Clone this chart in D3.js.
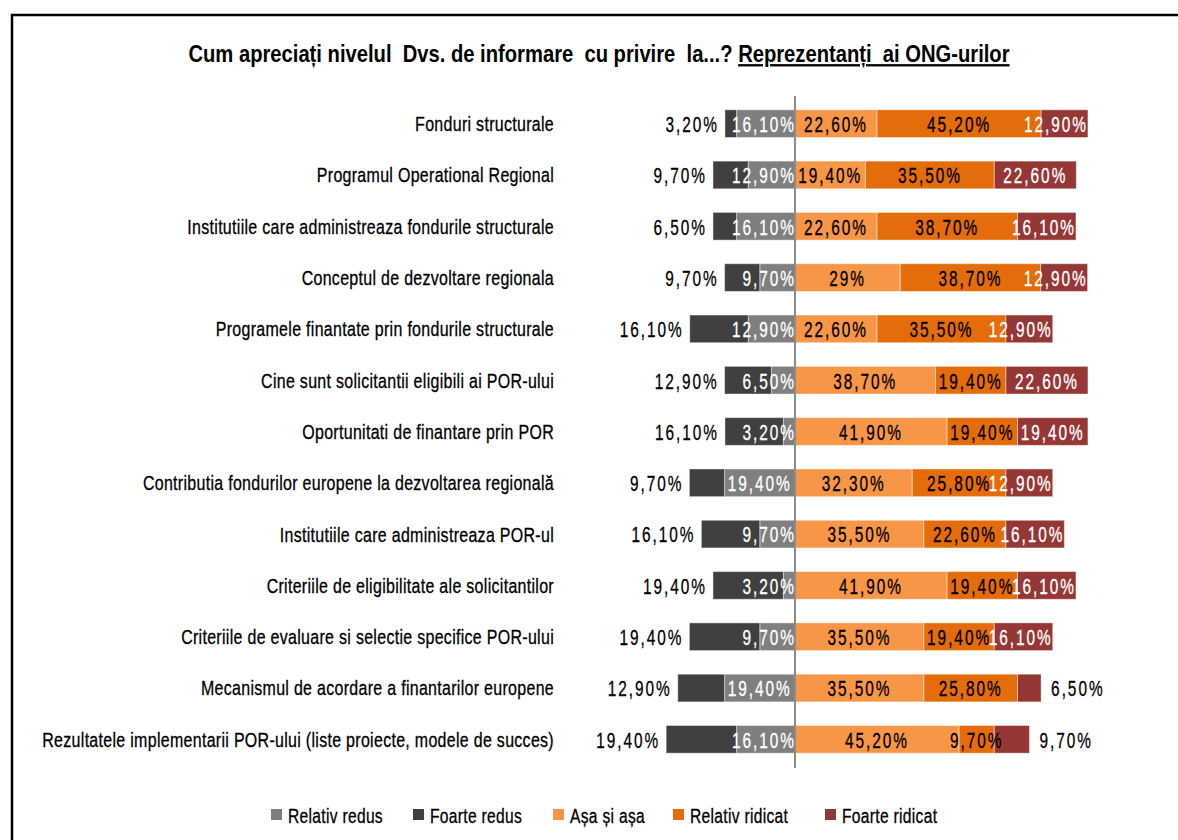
<!DOCTYPE html>
<html>
<head>
<meta charset="utf-8">
<script src="https://cdn.jsdelivr.net/npm/d3@7"></script>
<style>
  body { margin: 0; background: #fff; }
  text { font-family: "Liberation Sans", Arial, sans-serif; }
</style>
</head>
<body>
<div id="chart"></div>
<script>
// Data (percentages)
const categories = [
    "Fonduri structurale",
    "Programul Operational Regional",
    "Institutiile care administreaza fondurile structurale",
    "Conceptul de dezvoltare regionala",
    "Programele finantate prin fondurile structurale",
    "Cine sunt solicitantii eligibili ai POR-ului",
    "Oportunitati de finantare prin POR",
    "Contributia fondurilor europene la dezvoltarea regională",
    "Institutiile care administreaza POR-ul",
    "Criteriile de eligibilitate ale solicitantilor",
    "Criteriile de evaluare si selectie specifice POR-ului",
    "Mecanismul de acordare a finantarilor europene",
    "Rezultatele implementarii POR-ului (liste proiecte, modele de succes)"
];
const foarteRedus    = [3.2, 9.7, 6.5, 9.7, 16.1, 12.9, 16.1, 9.7, 16.1, 19.4, 19.4, 12.9, 19.4];
const relativRedus   = [16.1, 12.9, 16.1, 9.7, 12.9, 6.5, 3.2, 19.4, 9.7, 3.2, 9.7, 19.4, 16.1];
const asaSiAsa       = [22.6, 19.4, 22.6, 29, 22.6, 38.7, 41.9, 32.3, 35.5, 41.9, 35.5, 35.5, 45.2];
const relativRidicat = [45.2, 35.5, 38.7, 38.7, 35.5, 19.4, 19.4, 25.8, 22.6, 19.4, 19.4, 25.8, 9.7];
const foarteRidicat  = [12.9, 22.6, 16.1, 12.9, 12.9, 22.6, 19.4, 12.9, 16.1, 16.1, 16.1, 6.5, 9.7];

const legendNames = ["Relativ redus", "Foarte redus", "Așa și așa", "Relativ ridicat", "Foarte ridicat"];
const colors = {
    "Relativ redus": "#7f7f7f",
    "Foarte redus": "#404040",
    "Așa și așa": "#f79646",
    "Relativ ridicat": "#e46c0a",
    "Foarte ridicat": "#953735"
};

const fmt = v => (v % 1 === 0 ? v + "" : v.toFixed(2).replace(".", ",")) + "%";

const W = 1178, H = 840;
const svg = d3.select("#chart").append("svg")
    .attr("width", W).attr("height", H);

// the original uses a very narrow font, so text is squeezed horizontally
function squeezed(parent, px, py, str, anchor, sx) {
    const g = parent.append("g").attr("transform", `translate(${px},${py}) scale(${sx},1)`);
    return g.append("text").attr("text-anchor", anchor).text(str);
}

// outer frame (runs off the right/bottom edges)
svg.append("rect")
    .attr("x", 12).attr("y", 15)
    .attr("width", 1200).attr("height", 900)
    .attr("fill", "none").attr("stroke", "#000").attr("stroke-width", 2.5);

// Title
const titleG = svg.append("g");
const title = titleG.append("text")
    .attr("text-anchor", "middle")
    .style("font-size", "23px").style("font-weight", "bold")
    .style("white-space", "pre");
title.append("tspan").text("Cum apreciați nivelul  Dvs. de informare  cu privire  la...? ");
title.append("tspan").attr("text-decoration", "underline").text("Reprezentanți  ai ONG-urilor");
const titleSx = 822 / title.node().getComputedTextLength();
titleG.attr("transform", `translate(599,62) scale(${titleSx},1)`);

// Scales
const x = d3.scaleLinear().domain([-50, 90]).range([613.5, 1121.7]);
const y = d3.scaleBand().domain(categories).range([98, 765])
    .paddingInner(0.46).paddingOuter(0.23);

// Build segments for each row
const rows = categories.map((c, i) => {
    const segs = [];
    // left side: Relativ redus next to the centre, then Foarte redus
    segs.push({ cat: c, key: "Relativ redus", v: relativRedus[i], x0: -relativRedus[i], x1: 0 });
    segs.push({ cat: c, key: "Foarte redus", v: foarteRedus[i], x0: -relativRedus[i] - foarteRedus[i], x1: -relativRedus[i] });
    let acc = 0;
    [["Așa și așa", asaSiAsa[i]], ["Relativ ridicat", relativRidicat[i]], ["Foarte ridicat", foarteRidicat[i]]]
        .forEach(([k, v]) => { segs.push({ cat: c, key: k, v: v, x0: acc, x1: acc + v }); acc += v; });
    return segs;
});
const segments = rows.flat();

// Category labels
const catG = svg.append("g").style("font-size", "20.5px").style("letter-spacing", "0.4px")
    .attr("stroke", "#000").attr("stroke-width", 0.3);
const probe = catG.append("text").text(categories[categories.length - 1]);
const catSx = 512 / probe.node().getComputedTextLength();
probe.remove();
categories.forEach(c => {
    squeezed(catG, 554, y(c) + y.bandwidth() / 2, c, "end", catSx).attr("dy", "0.36em");
});

// Bars
svg.append("g").selectAll("rect")
    .data(segments)
    .enter().append("rect")
    .attr("x", d => x(d.x0))
    .attr("y", d => y(d.cat))
    .attr("width", d => x(d.x1) - x(d.x0))
    .attr("height", y.bandwidth())
    .attr("fill", d => colors[d.key])
    .attr("stroke", "#fff").attr("stroke-opacity", 0.45).attr("stroke-width", 1);

// centre axis line
svg.append("line")
    .attr("x1", x(0)).attr("x2", x(0))
    .attr("y1", 96).attr("y2", 768)
    .attr("stroke", "#8c8c8c").attr("stroke-width", 2);

// Value labels
const valSx = 0.7;
const labels = svg.append("g").style("font-size", "22px").style("letter-spacing", "2.8px");
segments.forEach(d => {
    const cy = y(d.cat) + y.bandwidth() / 2;
    const t = squeezed(labels, 0, cy, fmt(d.v), "middle", valSx).attr("dy", "0.38em");
    const tw = t.node().getComputedTextLength() * valSx;
    const xa = x(d.x0), xb = x(d.x1), mid = (xa + xb) / 2;
    let tx, fill = "#000";
    if (d.key === "Foarte redus") {
        tx = xa - 6 - tw / 2;
    } else if (d.key === "Relativ redus") {
        tx = Math.min(mid, x(0) + 1 - tw / 2);
        fill = "#fff";
    } else if (d.key === "Foarte ridicat") {
        if (d.v < 10) {
            tx = xb + 10 + tw / 2;
        } else {
            tx = Math.min(mid, xb - tw / 2);
            fill = "#fff";
        }
    } else {
        tx = mid;
    }
    t.attr("fill", fill).attr("stroke", fill).attr("stroke-width", 0.3);
    d3.select(t.node().parentNode).attr("transform", `translate(${tx},${cy}) scale(${valSx},1)`);
});

// Legend
const legendX = [271, 413, 553, 673, 825];
const legG = svg.append("g").style("font-size", "21px").style("letter-spacing", "0.4px")
    .attr("stroke", "#000").attr("stroke-width", 0.3);
const lp = legG.append("text").text(legendNames[0]);
const legSx = 95 / lp.node().getComputedTextLength();
lp.remove();
legendNames.forEach((name, i) => {
    legG.append("rect")
        .attr("x", legendX[i]).attr("y", 809)
        .attr("width", 11).attr("height", 11)
        .attr("stroke", "none")
        .attr("fill", colors[name]);
    squeezed(legG, legendX[i] + 17, 815, name, "start", legSx).attr("dy", "0.36em");
});
</script>
</body>
</html>
